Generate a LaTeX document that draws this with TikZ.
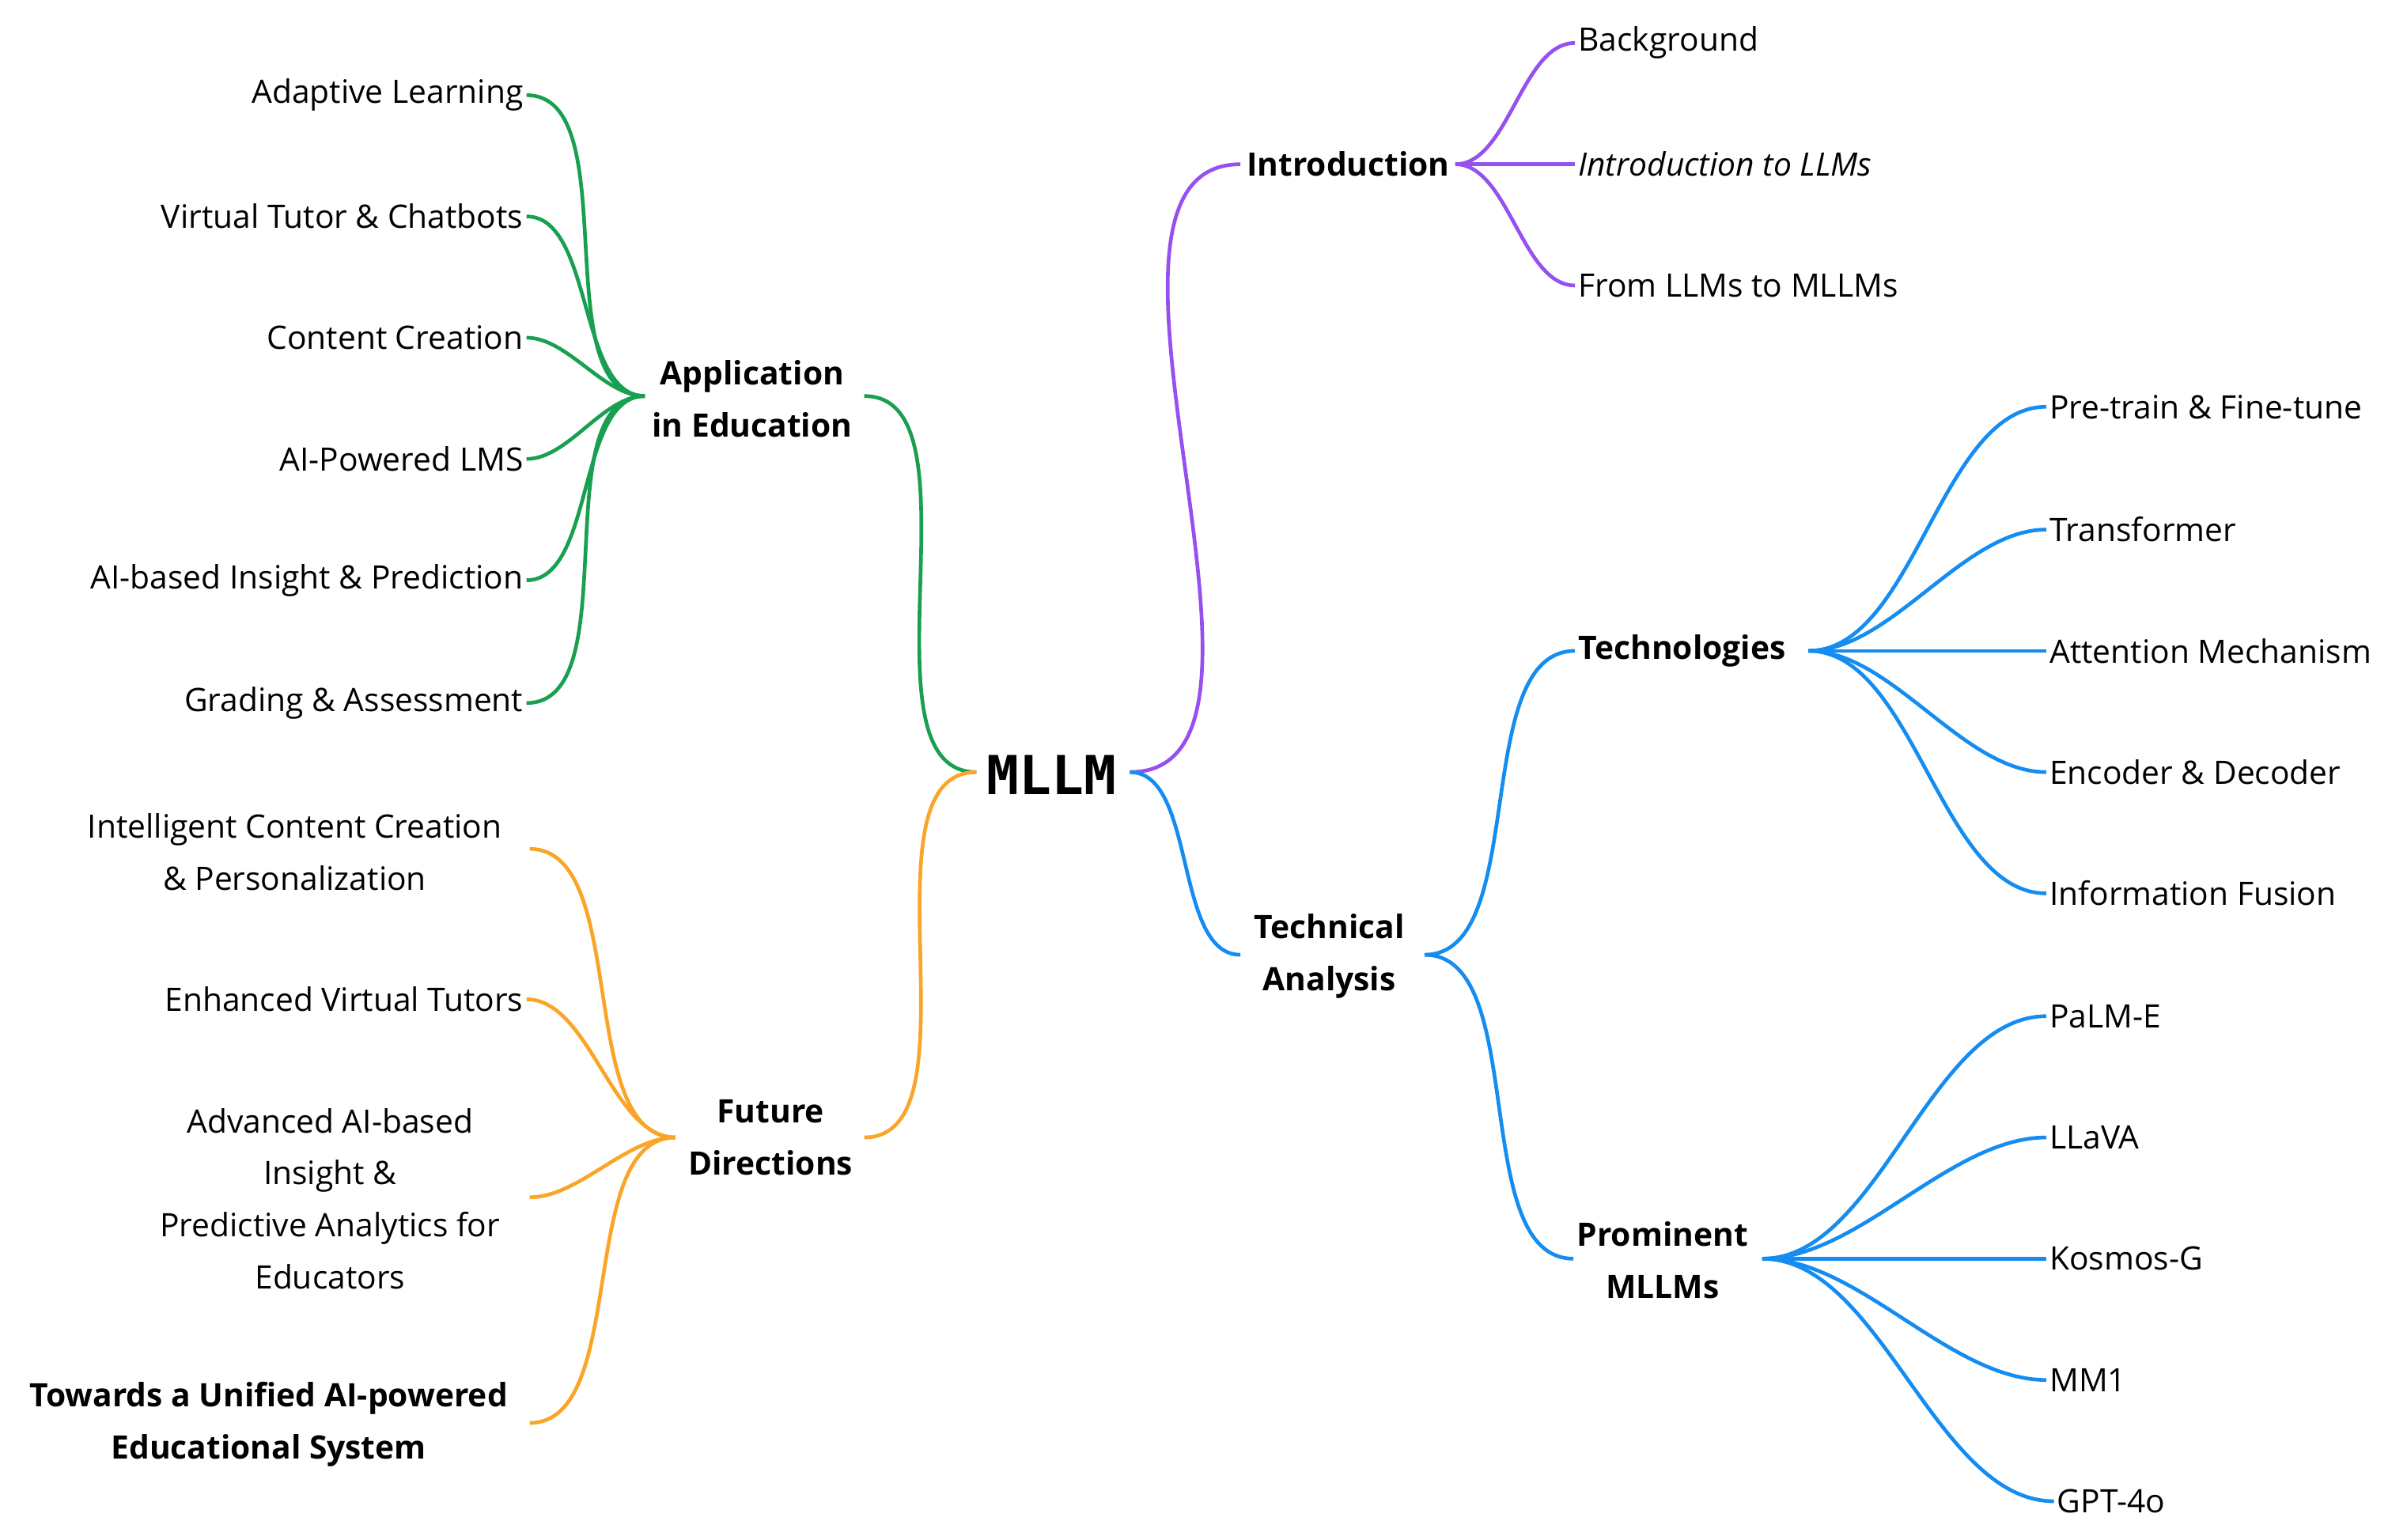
\documentclass[tikz,border=0pt]{standalone}
\usepackage{fontspec}
\setmainfont{Open Sans}
\newfontfamily\monof{DejaVu Sans Mono}
\begin{document}
\begin{tikzpicture}[x=1pt,y=-1pt,
  every node/.style={font=\fontsize{21}{30}\selectfont, inner sep=2pt},
  bold/.style={font=\fontsize{21}{34}\selectfont\bfseries, align=center},
  rr/.style={out=0,in=180,looseness=0.8},
  ll/.style={out=180,in=0,looseness=0.8}]
\definecolor{gr}{RGB}{24,160,80}
\definecolor{pu}{RGB}{150,80,240}
\definecolor{bl}{RGB}{20,140,240}
\definecolor{or}{RGB}{250,165,40}
\tikzset{cg/.style={draw=gr,line width=2.4pt},cp/.style={draw=pu,line width=2.4pt},cb/.style={draw=bl,line width=2.4pt},co/.style={draw=or,line width=2.4pt}}
\useasboundingbox (0,0) rectangle (1568,1003);
% root
\node[font=\fontsize{35}{40}\selectfont\monof\bfseries] (root) at (685,505) {MLLM};
\coordinate (rL) at (636,503);
\coordinate (rR) at (736,503);
% Introduction
\node[bold,anchor=west] (intro) at (810,107) {Introduction};
\coordinate (introL) at (808,107);
\coordinate (introR) at (948,107);
\node[anchor=west] (i1) at (1026,28) {Background};
\node[anchor=west,font=\fontsize{21}{30}\selectfont\itshape] (i2) at (1026,107) {Introduction to LLMs};
\node[anchor=west] (i3) at (1026,186) {From LLMs to MLLMs};
\draw[cp] (rR) to[rr] (introL);
\foreach \n in {i1,i2,i3} \draw[cp] (introR) to[rr] (\n.west);
% Technical analysis
\node[bold] (ta) at (866,623) {Technical\\Analysis};
\coordinate (taL) at (808,622);
\coordinate (taR) at (928,622);
\draw[cb] (rR) to[rr] (taL);
\node[bold,anchor=west] (tech) at (1026,424) {Technologies};
\coordinate (techR) at (1178,424);
\node[bold] (pm) at (1083,821) {Prominent\\MLLMs};
\coordinate (pmL) at (1025,820);
\coordinate (pmR) at (1148,820);
\draw[cb] (taR) to[rr] (tech.west);
\draw[cb] (taR) to[rr] (pmL);
\node[anchor=west] (t1) at (1333,265) {Pre-train \& Fine-tune};
\node[anchor=west] (t2) at (1333,345) {Transformer};
\node[anchor=west] (t3) at (1333,424) {Attention Mechanism};
\node[anchor=west] (t4) at (1333,503) {Encoder \& Decoder};
\node[anchor=west] (t5) at (1333,582) {Information Fusion};
\foreach \n in {t1,t2,t3,t4,t5} \draw[cb] (techR) to[rr] (\n.west);
\node[anchor=west] (p1) at (1333,662) {PaLM-E};
\node[anchor=west] (p2) at (1333,741) {LLaVA};
\node[anchor=west] (p3) at (1333,820) {Kosmos-G};
\node[anchor=west] (p4) at (1333,899) {MM1};
\node[anchor=west] (p5) at (1338,978) {GPT-4o};
\foreach \n in {p1,p2,p3,p4,p5} \draw[cb] (pmR) to[rr] (\n.west);
% Application in Education
\node[bold] (app) at (490,260) {Application\\in Education};
\coordinate (appR) at (563,258);
\coordinate (appL) at (420,258);
\draw[cg] (rL) to[ll] (appR);
\node[anchor=east] (a1) at (343,62) {Adaptive Learning};
\node[anchor=east] (a2) at (343,141) {Virtual Tutor \& Chatbots};
\node[anchor=east] (a3) at (343,220) {Content Creation};
\node[anchor=east] (a4) at (343,299) {AI-Powered LMS};
\node[anchor=east] (a5) at (343,378) {AI-based Insight \& Prediction};
\node[anchor=east] (a6) at (343,458) {Grading \& Assessment};
\foreach \n in {a1,a2,a3,a4,a5,a6} \draw[cg] (appL) to[ll] (\n.east);
% Future Directions
\node[bold] (fd) at (502,741) {Future\\Directions};
\coordinate (fdR) at (563,741);
\coordinate (fdL) at (440,741);
\draw[co] (rL) to[ll] (fdR);
\node[align=center,font=\fontsize{21}{34}\selectfont] (f1) at (192,555) {Intelligent Content Creation\\\& Personalization};
\coordinate (f1e) at (345,553);
\node[anchor=east] (f2) at (343,651) {Enhanced Virtual Tutors};
\node[align=center,font=\fontsize{21}{34}\selectfont] (f3) at (215,781) {Advanced AI-based\\Insight \&\\Predictive Analytics for\\Educators};
\coordinate (f3e) at (345,780);
\node[bold] (f4) at (175,928) {Towards a Unified AI-powered\\Educational System};
\coordinate (f4e) at (345,927);
\draw[co] (fdL) to[ll] (f1e);
\draw[co] (fdL) to[ll] (f2.east);
\draw[co] (fdL) to[ll] (f3e);
\draw[co] (fdL) to[ll] (f4e);
\end{tikzpicture}
\end{document}
